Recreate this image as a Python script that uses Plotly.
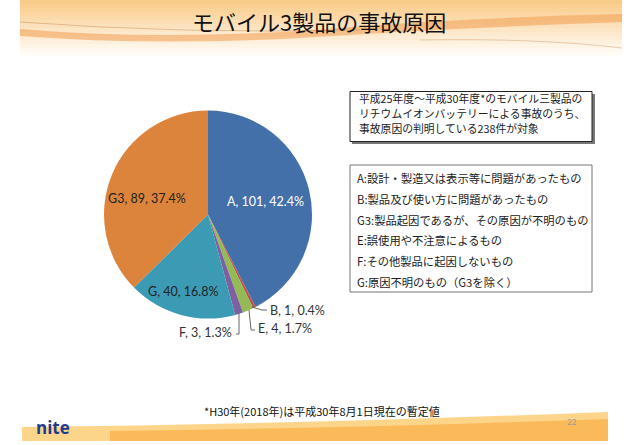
import plotly.graph_objects as go

W, H = 640, 445

# ---- data ----
categories = ["A", "B", "E", "F", "G", "G3"]
counts = [101, 1, 4, 3, 40, 89]
colors = ["#4470AA", "#C0504D", "#93BA55", "#7E60A0", "#3C9BB4", "#DC843C"]

title_text = "モバイル3製品の事故原因"
note_lines = [
    "平成25年度～平成30年度*のモバイル三製品の",
    "リチウムイオンバッテリーによる事故のうち、",
    "事故原因の判明している238件が対象",
]
legend_lines = [
    "A:設計・製造又は表示等に問題があったもの",
    "B:製品及び使い方に問題があったもの",
    "G3:製品起因であるが、その原因が不明のもの",
    "E:誤使用や不注意によるもの",
    "F:その他製品に起因しないもの",
    "G:原因不明のもの（G3を除く）",
]
footnote = "*H30年(2018年)は平成30年8月1日現在の暫定値"
page_no = "22"
logo = "nite"

total = sum(counts)
labels_txt = [f"{c}, {n}, {n / total * 100:.1f}%" for c, n in zip(categories, counts)]


def px(x):
    return x / W


def py(y):
    return 1 - y / H


CJK = "Noto Sans CJK JP"
LAT = "Lato"

fig = go.Figure()

cx, cy, r = 208, 214.5, 104
fig.add_trace(go.Pie(
    labels=categories, values=counts, sort=False, direction="clockwise",
    marker=dict(colors=colors, line=dict(width=0)),
    textinfo="none", hoverinfo="skip", showlegend=False,
    domain=dict(x=[px(cx - r), px(cx + r)], y=[py(cy + r), py(cy - r)]),
))

shapes = []
annotations = []

# ---- header decoration ----
for i in range(14):
    y0 = i * 4
    op = max(0.0, 0.8 - i * 0.058)
    shapes.append(dict(type="rect", xref="paper", yref="paper",
                       x0=px(20), x1=px(622), y0=py(y0 + 4), y1=py(y0),
                       fillcolor="#F8BE6A", opacity=op, line=dict(width=0), layer="below"))
shapes.append(dict(type="path", xref="paper", yref="paper",
                   path=(f"M {px(20)},{py(36)} Q {px(150)},{py(46)} {px(300)},{py(38)} "
                         f"Q {px(450)},{py(28)} {px(622)},{py(22)} L {px(622)},{py(14)} "
                         f"Q {px(450)},{py(18)} {px(300)},{py(31)} Q {px(150)},{py(40)} {px(20)},{py(29)} Z"),
                   fillcolor="#F2A35A", opacity=0.6, line=dict(width=0), layer="below"))
shapes.append(dict(type="path", xref="paper", yref="paper",
                   path=f"M {px(20)},{py(22)} Q {px(180)},{py(34)} {px(360)},{py(30)}",
                   line=dict(color="#C98A55", width=0.8), opacity=0.6, layer="below"))
shapes.append(dict(type="path", xref="paper", yref="paper",
                   path=f"M {px(420)},{py(40)} Q {px(540)},{py(38)} {px(622)},{py(48)}",
                   line=dict(color="#C98A55", width=0.8), opacity=0.5, layer="below"))

# ---- footer decoration ----
shapes.append(dict(type="path", xref="paper", yref="paper",
                   path=(f"M {px(22)},{py(441)} L {px(22)},{py(427)} Q {px(300)},{py(424)} "
                         f"{px(608)},{py(412)} L {px(608)},{py(441)} Z"),
                   fillcolor="#FCD58A", line=dict(width=0), layer="below"))
shapes.append(dict(type="path", xref="paper", yref="paper",
                   path=(f"M {px(110)},{py(441)} L {px(110)},{py(431)} Q {px(350)},{py(428)} "
                         f"{px(608)},{py(419)} L {px(608)},{py(441)} Z"),
                   fillcolor="#F9B550", opacity=0.85, line=dict(width=0), layer="below"))

# ---- text boxes ----
shapes.append(dict(type="rect", xref="paper", yref="paper",
                   x0=px(352), x1=px(595), y0=py(144), y1=py(94),
                   fillcolor="#777777", line=dict(width=0), layer="below"))
shapes.append(dict(type="rect", xref="paper", yref="paper",
                   x0=px(350), x1=px(592), y0=py(141.5), y1=py(91.5),
                   fillcolor="white", line=dict(color="#222222", width=1), layer="below"))
shapes.append(dict(type="rect", xref="paper", yref="paper",
                   x0=px(350), x1=px(592), y0=py(292), y1=py(165),
                   fillcolor="white", line=dict(color="#777777", width=1), layer="below"))

for i, t in enumerate(note_lines):
    annotations.append(dict(x=px(357), y=py(98 + i * 15), xref="paper", yref="paper",
                            text=t, showarrow=False, xanchor="left", yanchor="middle",
                            font=dict(family=CJK, size=10.8, color="#222222")))
for i, t in enumerate(legend_lines):
    annotations.append(dict(x=px(355), y=py(178 + i * 20.8), xref="paper", yref="paper",
                            text=t, showarrow=False, xanchor="left", yanchor="middle",
                            font=dict(family=CJK, size=11.3, color="#222222")))

# ---- title / footer text ----
annotations.append(dict(x=px(319), y=py(21), xref="paper", yref="paper", text=title_text,
                        showarrow=False, xanchor="center", yanchor="middle",
                        font=dict(family=CJK, size=22, color="#111111")))
annotations.append(dict(x=px(322), y=py(411), xref="paper", yref="paper", text=footnote,
                        showarrow=False, xanchor="center", yanchor="middle",
                        font=dict(family=CJK, size=11, color="#111111")))
annotations.append(dict(x=px(572), y=py(422), xref="paper", yref="paper", text=page_no,
                        showarrow=False, xanchor="center", yanchor="middle",
                        font=dict(family=LAT, size=8, color="#999999")))
annotations.append(dict(x=px(34), y=py(427), xref="paper", yref="paper", text=f"<b>{logo}</b>",
                        showarrow=False, xanchor="left", yanchor="middle",
                        font=dict(family="Open Sans", size=17, color="#1F3C8C")))

# ---- pie labels ----
label_pos = {
    "A": (265, 201, "center", "white"),
    "G3": (147, 198, "center", "#222222"),
    "G": (183, 291, "center", "#222222"),
    "B": (268, 310, "left", "#333333"),
    "E": (256, 328, "left", "#333333"),
    "F": (234, 332, "right", "#333333"),
}
for c, t in zip(categories, labels_txt):
    x, y, anc, col = label_pos[c]
    annotations.append(dict(x=px(x), y=py(y), xref="paper", yref="paper", text=t,
                            showarrow=False, xanchor=anc, yanchor="middle",
                            font=dict(family=LAT, size=12.5, color=col)))

# leader lines
leaders = [
    [(252, 307), (262, 310), (267, 310)],
    [(249, 310), (251, 330), (255, 330)],
    [(239, 313), (239, 334), (236, 334)],
]
for pts in leaders:
    path = "M " + " L ".join(f"{px(a)},{py(b)}" for a, b in pts)
    shapes.append(dict(type="path", xref="paper", yref="paper", path=path,
                       line=dict(color="#555555", width=0.9)))

fig.update_layout(
    width=W, height=H, margin=dict(l=0, r=0, t=0, b=0),
    paper_bgcolor="white", plot_bgcolor="white",
    shapes=shapes, annotations=annotations, showlegend=False,
)
fig.write_html("out.html")
